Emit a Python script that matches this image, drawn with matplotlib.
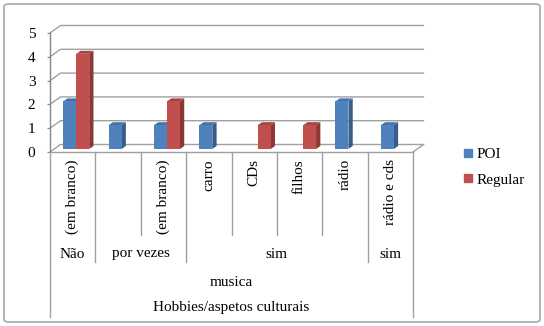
import matplotlib
matplotlib.use("Agg")
import matplotlib.pyplot as plt
from matplotlib.patches import Polygon, FancyBboxPatch
from matplotlib.lines import Line2D
from matplotlib.transforms import blended_transform_factory

plt.rcParams['font.family'] = ['Liberation Serif', 'DejaVu Serif']

# data
leaf_labels = ["(em branco)", "", "(em branco)", "carro", "CDs", "filhos", "rádio", "rádio e cds"]
poi = [2, 1, 1, 1, 0, 0, 2, 1]
regular = [4, 0, 2, 0, 1, 1, 0, 0]
series_names = ["POI", "Regular"]
level2 = [("Não", 0, 1), ("por vezes", 1, 3), ("sim", 3, 7), ("sim", 7, 8)]
level3 = [("musica", 0, 8)]
level4 = [("Hobbies/aspetos culturais", 0, 8)]
yticks = [0, 1, 2, 3, 4, 5]

W, H = 544, 326
FS = 11
fig = plt.figure(figsize=(W / 100, H / 100), dpi=100)

# outer rounded frame
fig.patches.append(FancyBboxPatch((4 / W, 4 / H), (W - 8) / W, (H - 8) / H,
                                  boxstyle="round,pad=0,rounding_size=0.008",
                                  transform=fig.transFigure, fc="none",
                                  ec="#a6a6a6", lw=1.2, zorder=-1))

x0, x1, ytop, ybot = 50, 413, 33, 152
ax = fig.add_axes([x0 / W, 1 - ybot / H, (x1 - x0) / W, (ybot - ytop) / H])
ax.set_xlim(-0.5, 7.5)
ax.set_ylim(0, 5)
ax.patch.set_visible(False)
for s in ax.spines.values():
    s.set_visible(False)
ax.set_xticks([])
ax.set_yticks(yticks)
ax.tick_params(axis='y', length=2.5, color="#868686", labelsize=FS, pad=8)

n = len(leaf_labels)
pxx = (x1 - x0) / n
pxy = (ybot - ytop) / 5.0
gray = "#a0a0a0"

# back wall / floor offsets (pixels -> data units)
bdx, bdy = 10.5 / pxx, 7.5 / pxy
L, R = -0.5, n - 0.5
for v in yticks:
    ax.plot([L, L + bdx, R + bdx], [v, v + bdy, v + bdy], color=gray, lw=1, clip_on=False, zorder=1)
ax.plot([L, R], [0, 0], color=gray, lw=1, clip_on=False, zorder=1)
ax.plot([R, R + bdx], [0, bdy], color=gray, lw=1, clip_on=False, zorder=1)
ax.plot([L, L], [0, 5], color="#868686", lw=1, clip_on=False, zorder=1)

# 3D bars
w = 13 / pxx
offx, offy = 3.5 / pxx, 3 / pxy
ddx, ddy = 4.3 / pxx, 3 / pxy
styles = [("#4f81bd", "#385d8a", "#4473ab"), ("#c0504d", "#8c3836", "#a9433f")]
for k, vals in enumerate([poi, regular]):
    front, side, top = styles[k]
    for i, h in enumerate(vals):
        if h == 0:
            continue
        xl = i + offx - w + k * w
        xr = xl + w
        b = offy
        t = h + offy
        ax.add_patch(Polygon([(xr, b), (xr + ddx, b + ddy), (xr + ddx, t + ddy), (xr, t)],
                             closed=True, fc=side, ec="none", zorder=3, clip_on=False))
        ax.add_patch(Polygon([(xl, t), (xl + ddx, t + ddy), (xr + ddx, t + ddy), (xr, t)],
                             closed=True, fc=top, ec="none", zorder=3, clip_on=False))
        ax.bar(xl, h, bottom=b, width=w, align='edge', color=front, zorder=4, clip_on=False)

# multi-level category axis
tr = blended_transform_factory(ax.transData, fig.transFigure)
def fy(py):
    return 1 - py / H

sep_depth = {}
for i in range(n + 1):
    sep_depth[i] = 235
for grp in level2:
    sep_depth[grp[1]] = 262
    sep_depth[grp[2]] = 262
sep_depth[0] = 317
sep_depth[n] = 317
for i in range(n + 1):
    ax.add_line(Line2D([i - 0.5, i - 0.5], [fy(ybot), fy(sep_depth[i])], transform=tr,
                       color=gray, lw=1, clip_on=False))

for i, lab in enumerate(leaf_labels):
    ax.text(i, fy(159), lab, transform=tr, rotation=90, ha='center', va='top', fontsize=FS)
for lab, a, b in level2:
    ax.text((a + b - 1) / 2, fy(254), lab, transform=tr, ha='center', va='center', fontsize=FS)
for lab, a, b in level3:
    ax.text((a + b - 1) / 2, fy(283), lab, transform=tr, ha='center', va='center', fontsize=FS)
for lab, a, b in level4:
    ax.text((a + b - 1) / 2, fy(308), lab, transform=tr, ha='center', va='center', fontsize=FS)

handles = [Line2D([], [], ls='none', marker='s', markersize=5.5, color=styles[0][0]),
           Line2D([], [], ls='none', marker='s', markersize=5.5, color=styles[1][0])]
fig.legend(handles, series_names, loc='upper left', bbox_to_anchor=(449 / W, fy(134)),
           frameon=False, fontsize=FS, handlelength=0.7,
           handletextpad=0.2, labelspacing=0.75)

fig.savefig("out.png", dpi=100)
